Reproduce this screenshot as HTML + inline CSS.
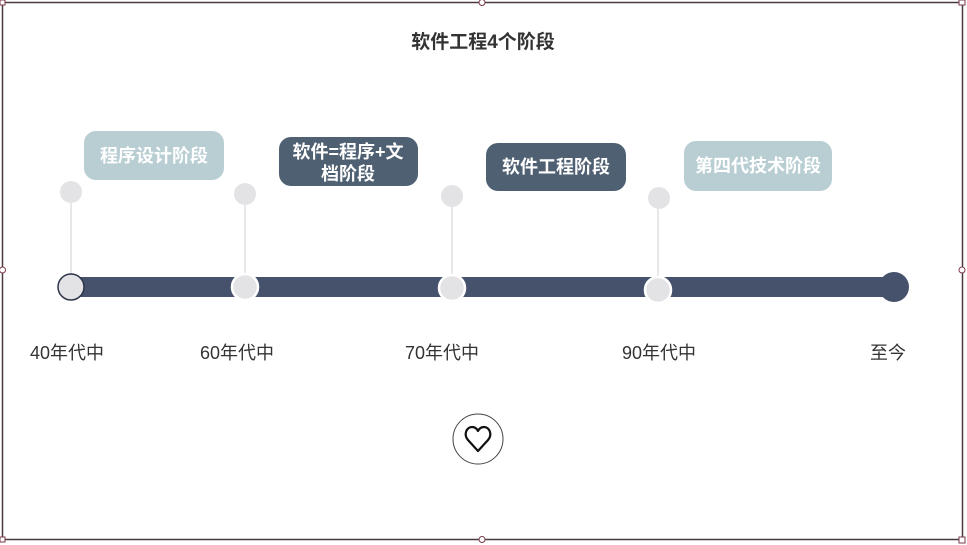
<!DOCTYPE html>
<html><head><meta charset="utf-8"><style>
body{margin:0;width:967px;height:545px;background:#fff;overflow:hidden;font-family:"Liberation Sans","Noto Sans CJK SC",sans-serif}
svg{position:absolute;left:0;top:0}
</style></head><body>
<svg width="967" height="545" viewBox="0 0 967 545" font-family="Liberation Sans, Noto Sans CJK SC, sans-serif">
<rect x="2.5" y="2.5" width="960" height="537" fill="none" stroke="#4a3a3e" stroke-width="1.5"/>
<g fill="#fff" stroke="#7a3a4a" stroke-width="1">
<rect x="0" y="0" width="5" height="5"/><rect x="959" y="0" width="6" height="5"/>
<rect x="0" y="537" width="5" height="5"/><rect x="959" y="537" width="6" height="6"/>
<circle cx="482" cy="2.5" r="3"/><circle cx="482" cy="539.5" r="3"/>
<circle cx="2.5" cy="270" r="3"/><circle cx="962" cy="270" r="3"/>
</g>
<text x="483" y="48" text-anchor="middle" font-size="19" font-weight="bold" fill="#333">软件工程4个阶段</text>
<g stroke="#e8e8ea" stroke-width="2">
<line x1="71" y1="192" x2="71" y2="287"/><line x1="245" y1="194" x2="245" y2="287"/>
<line x1="452" y1="196" x2="452" y2="288"/><line x1="658" y1="198" x2="658" y2="290"/>
</g>
<g fill="#e3e3e6">
<circle cx="71" cy="192" r="11"/><circle cx="245" cy="194" r="11"/>
<circle cx="452" cy="196" r="11"/><circle cx="659" cy="198" r="11"/>
</g>
<rect x="66" y="277" width="830" height="20" fill="#46526c"/>
<circle cx="894" cy="287" r="15" fill="#46526c"/>
<circle cx="71" cy="287" r="13" fill="#e3e3e6" stroke="#2c3448" stroke-width="1.5"/>
<g fill="#e3e3e6" stroke="#fff" stroke-width="2.5">
<circle cx="245" cy="287" r="13"/><circle cx="452" cy="288" r="13"/><circle cx="658" cy="290" r="13"/>
</g>
<rect x="84" y="131" width="140" height="49" rx="12" fill="#b8ced3"/>
<text x="154" y="162" text-anchor="middle" font-size="18" font-weight="bold" fill="#fff">程序设计阶段</text>
<rect x="279" y="137" width="139" height="49" rx="12" fill="#4f6072"/>
<text x="348" y="158" text-anchor="middle" font-size="18" font-weight="bold" fill="#fff">软件=程序+文</text>
<text x="348" y="180" text-anchor="middle" font-size="18" font-weight="bold" fill="#fff">档阶段</text>
<rect x="486" y="143" width="140" height="48" rx="12" fill="#4f6072"/>
<text x="556" y="173" text-anchor="middle" font-size="18" font-weight="bold" fill="#fff">软件工程阶段</text>
<rect x="684" y="141" width="148" height="50" rx="12" fill="#b8ced3"/>
<text x="758" y="172" text-anchor="middle" font-size="18" font-weight="bold" fill="#fff">第四代技术阶段</text>
<g font-size="18" fill="#333" text-anchor="middle">
<text x="67" y="359">40年代中</text><text x="237" y="359">60年代中</text>
<text x="442" y="359">70年代中</text><text x="659" y="359">90年代中</text>
<text x="888" y="359">至今</text>
</g>
<circle cx="478" cy="439" r="25" fill="#fff" stroke="#444" stroke-width="1"/>
<path d="M478 451 L468 440 C463 434 467 427 472 427 C475 427 477 429 478 431 C479 429 481 427 484 427 C489 427 493 434 488 440 Z" fill="none" stroke="#111" stroke-width="2.2" stroke-linejoin="round"/>
</svg>
</body></html>
